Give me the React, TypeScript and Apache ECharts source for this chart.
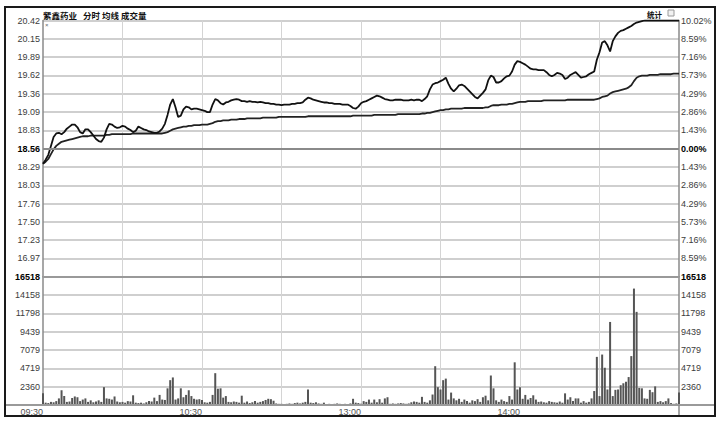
import React, { useEffect, useRef } from 'react';
import * as echarts from 'echarts';

const stockName = '紫鑫药业';
const titleItems = ['分时', '均线', '成交量'];
const statLabel = '统计';

const preClose = 18.56;
const priceMin = 16.70;
const priceMax = 20.42;
const volMax = 16518;

const priceTicks = ['', '16.97', '17.23', '17.50', '17.76', '18.03', '18.29', '18.56', '18.83', '19.09', '19.36', '19.62', '19.89', '20.15', '20.42'];
const pctTicks = ['', '8.59%', '7.16%', '5.73%', '4.29%', '2.86%', '1.43%', '0.00%', '1.43%', '2.86%', '4.29%', '5.73%', '7.16%', '8.59%', '10.02%'];
const volTicks = ['', '2360', '4719', '7079', '9439', '11798', '14158', '16518'];
const boldTicks = ['18.56', '0.00%', '16518'];
const xLabels = ['09:30', '10:30', '13:00', '14:00'];

const times: string[] = [];
for (let i = 0; i <= 240; i++) {
  const t = i <= 119 ? 9 * 60 + 30 + i : 13 * 60 + (i - 120);
  const h = Math.floor(t / 60);
  const m = t % 60;
  times.push(String(h).padStart(2, '0') + ':' + String(m).padStart(2, '0'));
}

const price = [
  18.34, 18.40, 18.47, 18.60, 18.73, 18.78, 18.79, 18.77, 18.80, 18.85,
  18.88, 18.91, 18.91, 18.87, 18.80, 18.78, 18.84, 18.84, 18.80, 18.75,
  18.70, 18.67, 18.66, 18.72, 18.84, 18.92, 18.91, 18.88, 18.86, 18.87,
  18.89, 18.88, 18.85, 18.83, 18.80, 18.82, 18.88, 18.86, 18.84, 18.83,
  18.81, 18.80, 18.79, 18.79, 18.81, 18.85, 18.92, 19.05, 19.20, 19.28,
  19.16, 19.02, 19.04, 19.13, 19.17, 19.16, 19.13, 19.14, 19.14, 19.13,
  19.12, 19.11, 19.09, 19.09, 19.20, 19.28, 19.26, 19.22, 19.20, 19.23,
  19.24, 19.26, 19.27, 19.28, 19.27, 19.25, 19.25, 19.24, 19.25, 19.24,
  19.24, 19.23, 19.24, 19.23, 19.22, 19.22, 19.21, 19.21, 19.20, 19.20,
  19.19, 19.20, 19.20, 19.20, 19.21, 19.21, 19.22, 19.22, 19.23, 19.27,
  19.30, 19.29, 19.27, 19.26, 19.25, 19.24, 19.23, 19.23, 19.22, 19.22,
  19.21, 19.21, 19.21, 19.20, 19.20, 19.20, 19.18, 19.15, 19.14, 19.17,
  19.22, 19.24, 19.25, 19.27, 19.29, 19.31, 19.33, 19.32, 19.30, 19.28,
  19.27, 19.26, 19.26, 19.27, 19.27, 19.27, 19.26, 19.26, 19.26, 19.27,
  19.26, 19.27, 19.27, 19.25, 19.28, 19.32, 19.42, 19.49, 19.51, 19.52,
  19.54, 19.56, 19.59, 19.50, 19.43, 19.39, 19.43, 19.48, 19.49, 19.47,
  19.43, 19.39, 19.35, 19.31, 19.29, 19.33, 19.37, 19.42, 19.55, 19.62,
  19.60, 19.52, 19.52, 19.54, 19.58, 19.61, 19.62, 19.68, 19.78, 19.83,
  19.82, 19.80, 19.78, 19.75, 19.72, 19.71, 19.71, 19.70, 19.70, 19.70,
  19.67, 19.63, 19.61, 19.63, 19.66, 19.65, 19.63, 19.57, 19.59, 19.63,
  19.65, 19.67, 19.63, 19.59, 19.60, 19.61, 19.64, 19.66, 19.68, 19.85,
  19.96, 20.10, 20.12, 20.06, 19.97, 20.12, 20.19, 20.24, 20.27, 20.28,
  20.30, 20.32, 20.34, 20.37, 20.39, 20.40, 20.41, 20.42, 20.42, 20.42,
  20.42, 20.42, 20.42, 20.42, 20.42, 20.42, 20.42, 20.42, 20.42, 20.42, 20.42,
];

const avgPrice = [
  18.34, 18.37, 18.41, 18.48, 18.55, 18.60, 18.63, 18.66, 18.67, 18.68,
  18.69, 18.70, 18.71, 18.72, 18.73, 18.74, 18.74, 18.74, 18.75, 18.75,
  18.75, 18.75, 18.75, 18.75, 18.76, 18.76, 18.77, 18.77, 18.77, 18.77,
  18.77, 18.77, 18.77, 18.77, 18.78, 18.78, 18.78, 18.78, 18.78, 18.78,
  18.78, 18.78, 18.78, 18.78, 18.78, 18.78, 18.79, 18.80, 18.82, 18.84,
  18.85, 18.86, 18.87, 18.88, 18.88, 18.89, 18.89, 18.90, 18.90, 18.90,
  18.91, 18.91, 18.91, 18.92, 18.93, 18.95, 18.96, 18.96, 18.97, 18.97,
  18.97, 18.98, 18.98, 18.98, 18.99, 18.99, 18.99, 19.00, 19.00, 19.00,
  19.00, 19.00, 19.00, 19.01, 19.01, 19.01, 19.01, 19.01, 19.01, 19.02,
  19.02, 19.02, 19.02, 19.02, 19.02, 19.02, 19.02, 19.02, 19.02, 19.02,
  19.03, 19.03, 19.03, 19.03, 19.03, 19.03, 19.03, 19.03, 19.03, 19.03,
  19.03, 19.03, 19.03, 19.03, 19.03, 19.03, 19.03, 19.04, 19.04, 19.04,
  19.04, 19.04, 19.04, 19.04, 19.04, 19.05, 19.05, 19.05, 19.05, 19.05,
  19.05, 19.05, 19.05, 19.05, 19.06, 19.06, 19.06, 19.06, 19.06, 19.06,
  19.06, 19.06, 19.06, 19.07, 19.07, 19.08, 19.08, 19.09, 19.10, 19.11,
  19.12, 19.12, 19.13, 19.13, 19.14, 19.14, 19.14, 19.14, 19.14, 19.15,
  19.15, 19.15, 19.15, 19.15, 19.15, 19.15, 19.15, 19.16, 19.16, 19.18,
  19.19, 19.19, 19.19, 19.20, 19.20, 19.20, 19.21, 19.21, 19.22, 19.23,
  19.24, 19.24, 19.24, 19.25, 19.25, 19.25, 19.25, 19.25, 19.25, 19.26,
  19.26, 19.26, 19.26, 19.26, 19.26, 19.26, 19.26, 19.26, 19.27, 19.27,
  19.27, 19.27, 19.27, 19.27, 19.27, 19.27, 19.27, 19.27, 19.27, 19.28,
  19.29, 19.31, 19.32, 19.33, 19.36, 19.38, 19.39, 19.40, 19.41, 19.42,
  19.43, 19.45, 19.48, 19.54, 19.59, 19.61, 19.62, 19.62, 19.62, 19.63,
  19.63, 19.63, 19.63, 19.64, 19.64, 19.64, 19.64, 19.64, 19.65, 19.65, 19.65,
];

const volume = [
  1500, 300, 250, 400, 350, 500, 850, 1900, 1150, 400,
  450, 900, 1100, 1000, 500, 700, 850, 400, 600, 350,
  450, 600, 400, 2300, 850, 800, 700, 1100, 450, 350,
  400, 300, 500, 450, 1250, 300, 250, 300, 200, 350,
  500, 450, 950, 500, 1300, 700, 650, 2150, 3200, 3550,
  700, 850, 2150, 1000, 1300, 1900, 1150, 800, 700, 750,
  650, 350, 300, 400, 1300, 4100, 2100, 2150, 950, 1150,
  400, 350, 450, 400, 300, 1200, 300, 450, 250, 350,
  500, 300, 400, 500, 650, 800, 750, 550, 200, 150,
  150, 100, 150, 200, 150, 250, 300, 200, 300, 400,
  2000, 300, 250, 350, 200, 150, 300, 100, 150, 100,
  150, 200, 150, 100, 150, 100, 200, 800, 300, 250,
  150, 500, 400, 700, 300, 700, 350, 750, 300, 850,
  1000, 150, 200, 150, 200, 250, 200, 150, 200, 350,
  450, 400, 300, 1050, 400, 300, 600, 1350, 5000, 2300,
  2000, 3200, 3400, 700, 1600, 850, 600, 800, 400, 700,
  500, 300, 600, 500, 750, 400, 1000, 1200, 600, 3800,
  2150, 600, 400, 700, 500, 400, 1150, 700, 5500, 2000,
  2300, 800, 1300, 700, 900, 1250, 700, 400, 450, 350,
  300, 500, 400, 350, 300, 450, 300, 1500, 700, 1000,
  500, 850, 850, 300, 500, 300, 400, 850, 1800, 6200,
  1150, 6500, 4800, 2000, 10700, 1150, 1950, 2000, 2550, 2800,
  3000, 3600, 6300, 15000, 12000, 2200, 2150, 850, 800, 1950,
  1650, 2400, 400, 500, 350, 500, 850, 250, 150, 200, 1600,
];

const FONT = 'Liberation Sans, Arial, sans-serif';
const CJK = 'Noto Sans CJK SC, sans-serif';
const hGrid = '#bfbfbf';
const vGrid = '#d4d4d4';
const border = '#8a8a8a';

function tickLabel(v: string) {
  if (!v) return '';
  return boldTicks.includes(v) ? '{b|' + v + '}' : v;
}

const labelStyle = {
  fontSize: 9,
  fontFamily: FONT,
  color: '#3c3c3c',
  rich: { b: { fontSize: 9, fontFamily: FONT, fontWeight: 'bold', color: '#000' } },
};

export default function App() {
  const ref = useRef<HTMLDivElement>(null);
  useEffect(() => {
    document.body.style.margin = '0';
    if (!ref.current) return;
    const chart = echarts.init(ref.current, undefined, { renderer: 'svg' });
    const grids = [
      { left: 43, right: 43, top: 20.5, height: 256.3 },
      { left: 43, right: 43, top: 276.8, height: 128.2 },
    ];
    const xBase = (gi: number) => ({
      type: 'category',
      gridIndex: gi,
      data: times,
      boundaryGap: false,
      axisLine: { show: false },
      axisTick: { show: false },
      splitLine: {
        show: true,
        interval: (i: number) => i % 30 === 0 && i > 0 && i < 240,
        lineStyle: { color: vGrid, width: 1 },
      },
    });
    const catY = (gi: number, data: string[], pos: string, split: boolean) => ({
      type: 'category',
      gridIndex: gi,
      data,
      position: pos,
      boundaryGap: false,
      axisLine: { show: true, lineStyle: { color: border, width: 1.5 } },
      axisTick: { show: false },
      axisLabel: { ...labelStyle, margin: pos === 'left' ? 3 : 2, formatter: (v: string) => tickLabel(v) },
      splitLine: { show: split, lineStyle: { color: hGrid, width: 1.5 } },
    });
    chart.setOption({
      animation: false,
      backgroundColor: '#fff',
      grid: grids,
      xAxis: [
        { ...xBase(0), axisLabel: { show: false } },
        {
          ...xBase(1),
          axisLabel: {
            show: true,
            interval: (_i: number, v: string) => xLabels.includes(v),
            align: 'right',
            fontSize: 9,
            fontFamily: FONT,
            color: '#555',
            margin: 2,
          },
        },
      ],
      yAxis: [
        { type: 'value', gridIndex: 0, min: priceMin, max: priceMax, show: false },
        catY(0, priceTicks, 'left', true),
        catY(0, pctTicks, 'right', false),
        { type: 'value', gridIndex: 1, min: 0, max: volMax, show: false },
        catY(1, volTicks, 'left', true),
        catY(1, volTicks, 'right', false),
      ],
      series: [
        {
          name: '均线',
          type: 'line',
          xAxisIndex: 0,
          yAxisIndex: 0,
          data: avgPrice,
          showSymbol: false,
          lineStyle: { color: '#222', width: 1.8 },
          z: 3,
          markLine: {
            silent: true,
            symbol: ['none', 'none'],
            label: { show: false },
            lineStyle: { color: border, width: 2, type: 'solid' },
            data: [{ yAxis: preClose }],
          },
        },
        {
          name: '分时',
          type: 'line',
          xAxisIndex: 0,
          yAxisIndex: 0,
          data: price,
          showSymbol: false,
          lineStyle: { color: '#111', width: 1.8 },
          z: 4,
        },
        {
          name: '成交量',
          type: 'bar',
          xAxisIndex: 1,
          yAxisIndex: 3,
          data: volume,
          barWidth: 2,
          itemStyle: { color: '#555' },
          markLine: {
            silent: true,
            symbol: ['none', 'none'],
            label: { show: false },
            lineStyle: { color: '#999', width: 2, type: 'solid' },
            data: [{ yAxis: volMax }],
          },
        },
      ],
      graphic: [
        { type: 'rect', shape: { x: 5, y: 7, width: 710, height: 409 }, style: { fill: 'none', stroke: '#1a1a1a', lineWidth: 2 }, z: 10 },
        { type: 'line', shape: { x1: 5, y1: 405, x2: 715, y2: 405 }, style: { stroke: '#9a9a9a', lineWidth: 2 }, z: 9 },
        { type: 'line', shape: { x1: 679, y1: 405, x2: 679, y2: 416 }, style: { stroke: border, lineWidth: 1.5 }, z: 9 },
        { type: 'text', x: 43, y: 14.5, style: { text: stockName, font: 'bold 8.5px ' + CJK, fill: '#111', verticalAlign: 'middle' } },
        { type: 'text', x: 83, y: 14.5, style: { text: titleItems[0], font: 'bold 8.5px ' + CJK, fill: '#111', verticalAlign: 'middle' } },
        { type: 'text', x: 102, y: 14.5, style: { text: titleItems[1], font: 'bold 8.5px ' + CJK, fill: '#111', verticalAlign: 'middle' } },
        { type: 'text', x: 121, y: 14.5, style: { text: titleItems[2], font: 'bold 8.5px ' + CJK, fill: '#111', verticalAlign: 'middle' } },
        { type: 'text', x: 647, y: 14, style: { text: statLabel, font: 'bold 7.5px ' + CJK, fill: '#111', verticalAlign: 'middle' } },
        { type: 'rect', shape: { x: 668, y: 10, width: 6, height: 6 }, style: { fill: '#f2f2f2', stroke: '#9a9a9a', lineWidth: 1 } },
        { type: 'text', x: 45, y: 25, style: { text: '×', font: '6px ' + FONT, fill: '#666', verticalAlign: 'middle' } },
      ],
    });
    return () => chart.dispose();
  }, []);
  return <div ref={ref} style={{ width: 722, height: 425 }} />;
}
